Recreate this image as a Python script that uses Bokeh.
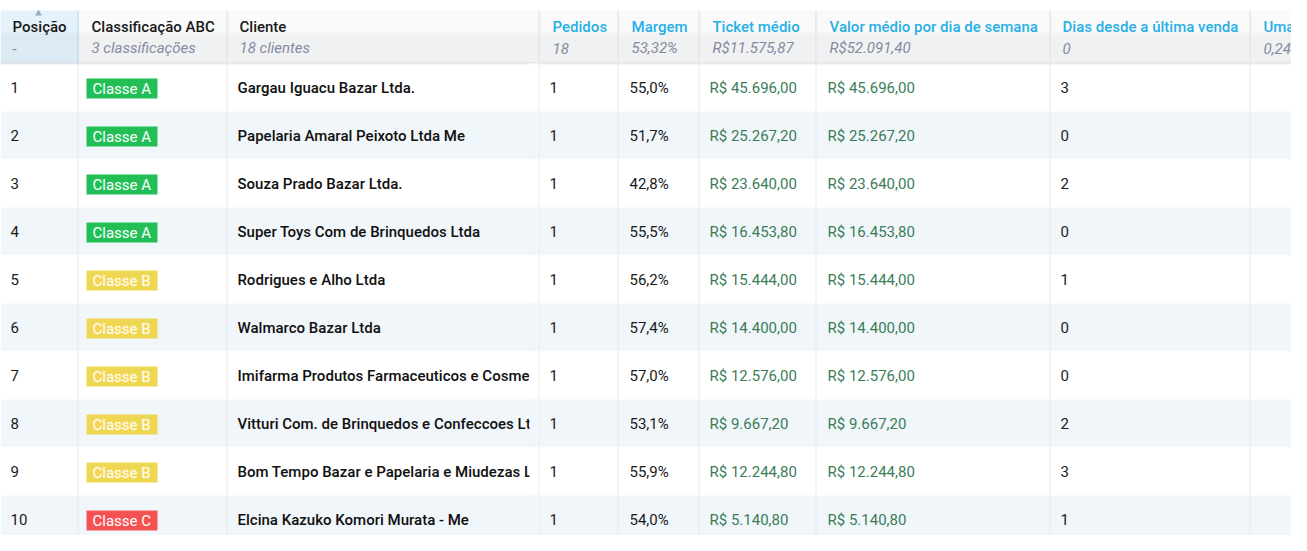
from bokeh.plotting import figure
from bokeh.models import Range1d, ColumnDataSource
from bokeh.core.properties import value
from bokeh.embed import file_html
from bokeh.resources import INLINE

# ---------------- data ----------------
posicao = [1, 2, 3, 4, 5, 6, 7, 8, 9, 10]
classe = ["Classe A", "Classe A", "Classe A", "Classe A", "Classe B",
          "Classe B", "Classe B", "Classe B", "Classe B", "Classe C"]
cliente = ["Gargau Iguacu Bazar Ltda.",
           "Papelaria Amaral Peixoto Ltda Me",
           "Souza Prado Bazar Ltda.",
           "Super Toys Com de Brinquedos Ltda",
           "Rodrigues e Alho Ltda",
           "Walmarco Bazar Ltda",
           "Imifarma Produtos Farmaceuticos e Cosme",
           "Vitturi Com. de Brinquedos e Confeccoes Lt",
           "Bom Tempo Bazar e Papelaria e Miudezas L",
           "Elcina Kazuko Komori Murata - Me"]
pedidos = [1, 1, 1, 1, 1, 1, 1, 1, 1, 1]
margem = [55.0, 51.7, 42.8, 55.5, 56.2, 57.4, 57.0, 53.1, 55.9, 54.0]
ticket = [45696.00, 25267.20, 23640.00, 16453.80, 15444.00,
          14400.00, 12576.00, 9667.20, 12244.80, 5140.80]
valor_dia = [45696.00, 25267.20, 23640.00, 16453.80, 15444.00,
             14400.00, 12576.00, 9667.20, 12244.80, 5140.80]
dias = [3, 0, 2, 0, 1, 0, 0, 2, 3, 1]

col_titles = ["Posição", "Classificação ABC", "Cliente", "Pedidos", "Margem",
              "Ticket médio", "Valor médio por dia de semana",
              "Dias desde a última venda", "Uma ve"]
col_subtitles = ["-", "3 classificações", "18 clientes", "18", "53,32%",
                 "R$11.575,87", "R$52.091,40", "0", "0,24"]
class_colors = {"Classe A": "#22bf57", "Classe B": "#f0d752", "Classe C": "#f45252"}

# ---------------- layout (reference pixel coordinates) ----------------
col_edges = [0, 77, 226, 538, 617, 698, 815, 1049, 1249, 1310]
head_x = [12, 91, 239, 552, 631, 712, 829, 1062, 1263]
body_x = [10, 86, 237, 549, 629, 709, 827, 1060]
HEAD_TOP, HEAD_MID, HEAD_BOT = 10, 32, 63
ROW_H = 48

W, H = 1291, 535
p = figure(width=W, height=H, output_backend="svg", toolbar_location=None,
           x_range=Range1d(0, W), y_range=Range1d(H, 0),
           min_border=0, outline_line_color=None, background_fill_color="white",
           border_fill_color="white")
p.axis.visible = False
p.grid.visible = False

FONT = value("Roboto")
FONT_MED = value("Roboto Medium, Roboto")
FS = "15px"

n = len(posicao)
row_top = [HEAD_BOT + ROW_H * i for i in range(n)]
row_bot = [t + ROW_H for t in row_top]
row_mid = [t + ROW_H / 2 for t in row_top]
row_col = ["#ffffff" if i % 2 == 0 else "#f1f6fa" for i in range(n)]

# row backgrounds
p.quad(left=0, right=1310, top=row_top, bottom=row_bot, fill_color=row_col, line_color=None)

# header background
p.quad(left=0, right=1310, top=HEAD_TOP, bottom=HEAD_MID, fill_color="#fafafa", line_color=None)
p.quad(left=0, right=1310, top=HEAD_MID, bottom=HEAD_BOT, fill_color="#f0f1f3", line_color=None)
p.quad(left=0, right=77, top=HEAD_TOP, bottom=HEAD_MID, fill_color="#e6f2fb", line_color=None)
p.quad(left=0, right=77, top=HEAD_MID, bottom=HEAD_BOT, fill_color="#dceaf4", line_color=None)
# header bottom border / shadow
p.segment(x0=0, x1=1310, y0=HEAD_BOT - 0.5, y1=HEAD_BOT - 0.5, line_color="#d6d8da", line_width=1)
p.segment(x0=0, x1=1310, y0=HEAD_BOT + 0.5, y1=HEAD_BOT + 0.5, line_color="#eceef0", line_width=1)

# column separators
sep = col_edges[1:-1]
p.segment(x0=[x + 0.5 for x in sep], x1=[x + 0.5 for x in sep], y0=HEAD_BOT, y1=560,
          line_color="#e7eaed", line_width=1)
p.segment(x0=[x + 0.5 for x in sep[1:]], x1=[x + 0.5 for x in sep[1:]], y0=HEAD_TOP, y1=HEAD_BOT,
          line_color="#dadcde", line_width=1)
p.segment(x0=[x + 1.5 for x in sep[1:]], x1=[x + 1.5 for x in sep[1:]], y0=HEAD_TOP, y1=HEAD_BOT,
          line_color="#eeeeee", line_width=1)
p.segment(x0=77.5, x1=77.5, y0=HEAD_TOP, y1=HEAD_BOT, line_color="#a9d4ee", line_width=1)

# sort arrow
p.scatter(x=[38], y=[13], marker="triangle", size=7, fill_color="#90aec2", line_color=None)

# header titles
title_colors = ["#1a1a1a"] * 3 + ["#29b0e6"] * 6
p.text(x=head_x, y=[26] * 9, text=col_titles, text_font=FONT_MED, text_font_size=FS,
       text_baseline="middle", text_align="left", text_color=title_colors)
p.text(x=head_x, y=[47.5] * 9, text=col_subtitles, text_font=FONT, text_font_size=FS,
       text_font_style="italic", text_baseline="middle", text_align="left", text_color="#858aa0")

# body
def brl(v):
    s = f"{v:,.2f}".replace(",", "X").replace(".", ",").replace("X", ".")
    return "R$ " + s

src = ColumnDataSource(dict(
    mid=row_mid,
    bmid=[m + 1 for m in row_mid],
    pos=[str(v) for v in posicao],
    classe=classe,
    bcol=[class_colors[c] for c in classe],
    cliente=cliente,
    pedidos=[str(v) for v in pedidos],
    margem=[f"{v:.1f}%".replace(".", ",") for v in margem],
    ticket=[brl(v) for v in ticket],
    valor=[brl(v) for v in valor_dia],
    dias=[str(v) for v in dias],
))

common = dict(source=src, y="mid", text_font_size=FS, text_baseline="middle", text_align="left")
p.text(x=body_x[0], text="pos", text_font=FONT, text_color="#1a1a1a", **common)
# badges
p.rect(x=121.5, y="bmid", width=71, height=20, source=src, fill_color="bcol", line_color=None)
p.text(x=92, y="bmid", text="classe", source=src, text_font=FONT, text_font_size=FS,
       text_baseline="middle", text_align="left", text_color="white")
p.text(x=body_x[2], text="cliente", text_font=FONT_MED, text_color="#111111", **common)
# clip overflowing client names
p.quad(left=529, right=538, top=row_top, bottom=row_bot, fill_color=row_col, line_color=None)
p.text(x=body_x[3], text="pedidos", text_font=FONT, text_color="#1a1a1a", **common)
p.text(x=body_x[4], text="margem", text_font=FONT, text_color="#1a1a1a", **common)
p.text(x=body_x[5], text="ticket", text_font=FONT, text_color="#3b7d58", **common)
p.text(x=body_x[6], text="valor", text_font=FONT, text_color="#3b7d58", **common)
p.text(x=body_x[7], text="dias", text_font=FONT, text_color="#1a1a1a", **common)

open("out.html", "w").write(file_html(p, INLINE))
